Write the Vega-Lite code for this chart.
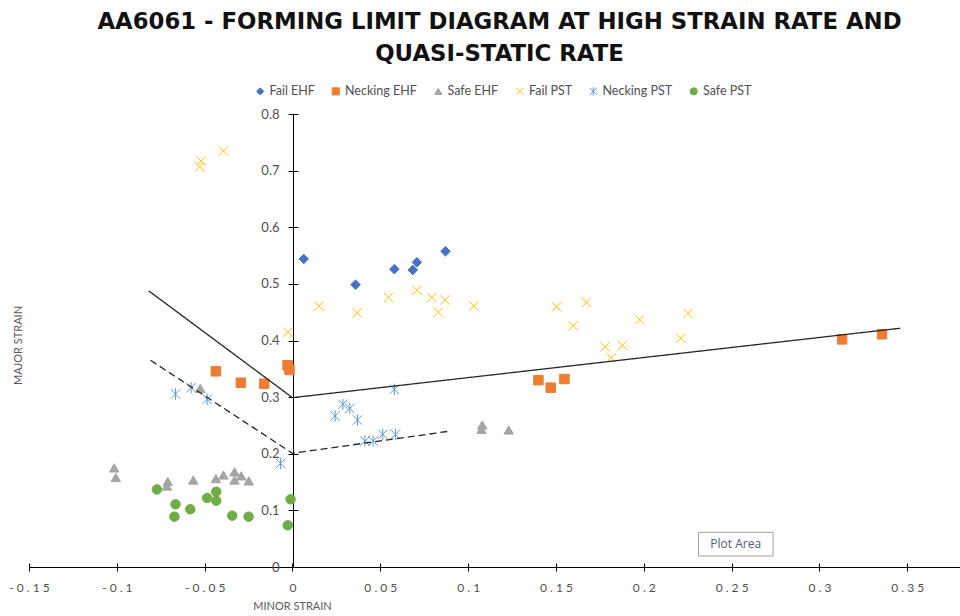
{
  "$schema": "https://vega.github.io/schema/vega-lite/v6.json",
  "width": 931,
  "height": 453,
  "autosize": {"type": "none"},
  "padding": {"left": 29, "top": 114, "right": 0, "bottom": 49},
  "background": "white",
  "title": {
    "text": ["AA6061 - FORMING LIMIT DIAGRAM AT HIGH STRAIN RATE AND", "QUASI-STATIC RATE"],
    "font": "DejaVu Sans",
    "fontSize": 22.8,
    "fontWeight": "bold",
    "color": "#111111",
    "anchor": "middle",
    "frame": "group",
    "lineHeight": 32,
    "offset": 19,
    "dx": 5
  },
  "config": {
    "view": {"stroke": null},
    "axis": {"grid": false, "domainColor": "#000000", "tickColor": "#000000", "labelFont": "Lato", "titleFont": "Lato", "labelColor": "#595959", "titleColor": "#595959"}
  },
  "datasets": {
    "pts": [
      {"s": "Fail EHF", "x": 0.0064, "y": 0.544},
      {"s": "Fail EHF", "x": 0.0359, "y": 0.4986},
      {"s": "Fail EHF", "x": 0.058, "y": 0.526},
      {"s": "Fail EHF", "x": 0.0685, "y": 0.5245},
      {"s": "Fail EHF", "x": 0.0708, "y": 0.538},
      {"s": "Fail EHF", "x": 0.0871, "y": 0.5575},
      {"s": "Necking EHF", "x": -0.0436, "y": 0.3456},
      {"s": "Necking EHF", "x": -0.0294, "y": 0.3255},
      {"s": "Necking EHF", "x": -0.0161, "y": 0.3237},
      {"s": "Necking EHF", "x": -0.0028, "y": 0.3562},
      {"s": "Necking EHF", "x": -0.0017, "y": 0.348},
      {"s": "Necking EHF", "x": 0.14, "y": 0.33},
      {"s": "Necking EHF", "x": 0.147, "y": 0.3167},
      {"s": "Necking EHF", "x": 0.1548, "y": 0.332},
      {"s": "Necking EHF", "x": 0.3129, "y": 0.402},
      {"s": "Necking EHF", "x": 0.3356, "y": 0.411},
      {"s": "Safe EHF", "x": -0.1015, "y": 0.175},
      {"s": "Safe EHF", "x": -0.1006, "y": 0.158},
      {"s": "Safe EHF", "x": -0.071, "y": 0.151},
      {"s": "Safe EHF", "x": -0.0715, "y": 0.143},
      {"s": "Safe EHF", "x": -0.0565, "y": 0.1536},
      {"s": "Safe EHF", "x": -0.0436, "y": 0.156},
      {"s": "Safe EHF", "x": -0.0393, "y": 0.1625},
      {"s": "Safe EHF", "x": -0.033, "y": 0.168},
      {"s": "Safe EHF", "x": -0.033, "y": 0.1536},
      {"s": "Safe EHF", "x": -0.0292, "y": 0.161},
      {"s": "Safe EHF", "x": -0.0249, "y": 0.152},
      {"s": "Safe EHF", "x": -0.0525, "y": 0.3155},
      {"s": "Safe EHF", "x": 0.108, "y": 0.2508},
      {"s": "Safe EHF", "x": 0.1076, "y": 0.243},
      {"s": "Safe EHF", "x": 0.1231, "y": 0.242},
      {"s": "Fail PST", "x": -0.052, "y": 0.717},
      {"s": "Fail PST", "x": -0.0529, "y": 0.707},
      {"s": "Fail PST", "x": -0.0393, "y": 0.7347},
      {"s": "Fail PST", "x": -0.0027, "y": 0.4145},
      {"s": "Fail PST", "x": 0.015, "y": 0.461},
      {"s": "Fail PST", "x": 0.0368, "y": 0.449},
      {"s": "Fail PST", "x": 0.0546, "y": 0.476},
      {"s": "Fail PST", "x": 0.0708, "y": 0.489},
      {"s": "Fail PST", "x": 0.0793, "y": 0.476},
      {"s": "Fail PST", "x": 0.0869, "y": 0.4715},
      {"s": "Fail PST", "x": 0.0829, "y": 0.4498},
      {"s": "Fail PST", "x": 0.1032, "y": 0.461},
      {"s": "Fail PST", "x": 0.1504, "y": 0.4597},
      {"s": "Fail PST", "x": 0.1673, "y": 0.4674},
      {"s": "Fail PST", "x": 0.1597, "y": 0.426},
      {"s": "Fail PST", "x": 0.178, "y": 0.389},
      {"s": "Fail PST", "x": 0.1814, "y": 0.3697},
      {"s": "Fail PST", "x": 0.1878, "y": 0.3915},
      {"s": "Fail PST", "x": 0.1977, "y": 0.4368},
      {"s": "Fail PST", "x": 0.221, "y": 0.4044},
      {"s": "Fail PST", "x": 0.2252, "y": 0.448},
      {"s": "Necking PST", "x": -0.0666, "y": 0.3055},
      {"s": "Necking PST", "x": -0.0577, "y": 0.3167},
      {"s": "Necking PST", "x": -0.0486, "y": 0.296},
      {"s": "Necking PST", "x": -0.0068, "y": 0.183},
      {"s": "Necking PST", "x": 0.0243, "y": 0.2667},
      {"s": "Necking PST", "x": 0.0287, "y": 0.2873},
      {"s": "Necking PST", "x": 0.0326, "y": 0.28},
      {"s": "Necking PST", "x": 0.037, "y": 0.2596},
      {"s": "Necking PST", "x": 0.058, "y": 0.3138},
      {"s": "Necking PST", "x": 0.0412, "y": 0.2225},
      {"s": "Necking PST", "x": 0.0459, "y": 0.2225},
      {"s": "Necking PST", "x": 0.0514, "y": 0.2343},
      {"s": "Necking PST", "x": 0.0586, "y": 0.2343},
      {"s": "Safe PST", "x": -0.0772, "y": 0.137},
      {"s": "Safe PST", "x": -0.0666, "y": 0.1107},
      {"s": "Safe PST", "x": -0.0672, "y": 0.0889},
      {"s": "Safe PST", "x": -0.0582, "y": 0.1019},
      {"s": "Safe PST", "x": -0.0486, "y": 0.1219},
      {"s": "Safe PST", "x": -0.0434, "y": 0.133},
      {"s": "Safe PST", "x": -0.0434, "y": 0.117},
      {"s": "Safe PST", "x": -0.0343, "y": 0.0906},
      {"s": "Safe PST", "x": -0.025, "y": 0.0889},
      {"s": "Safe PST", "x": -0.0011, "y": 0.1195},
      {"s": "Safe PST", "x": -0.0027, "y": 0.0736}
    ],
    "lines": [
      {"l": "solid", "o": 1, "x": -0.0818, "y": 0.4876},
      {"l": "solid", "o": 2, "x": 0, "y": 0.299},
      {"l": "solid", "o": 3, "x": 0.346, "y": 0.4217},
      {"l": "dashed", "o": 1, "x": -0.0808, "y": 0.365},
      {"l": "dashed", "o": 2, "x": 0, "y": 0.2008},
      {"l": "dashed", "o": 3, "x": 0.0897, "y": 0.24}
    ],
    "tip": [
      {"label": "Plot Area", "x": 0.2311, "x2": 0.2736, "y": 0.0194, "y2": 0.0613, "tx": 0.2523, "ty": 0.0406}
    ]
  },
  "layer": [
    {
      "data": {"name": "pts"},
      "mark": {"type": "point", "filled": true, "opacity": 1, "strokeWidth": 1},
      "encoding": {
        "x": {
          "field": "x", "type": "quantitative",
          "scale": {"domain": [-0.15, 0.38], "nice": false, "zero": false},
          "axis": {
            "orient": "bottom",
            "values": [-0.15, -0.1, -0.05, 0, 0.05, 0.1, 0.15, 0.2, 0.25, 0.3, 0.35],
            "format": ".2~f",
            "labelExpr": "join(split(replace(datum.label, '\u2212', '-'), ''), ' ')",
            "labelFont": "Lato", "labelFontSize": 12, "labelColor": "#505050",
            "labelBaseline": "middle", "labelPadding": 16,
            "labelOverlap": false, "labelBound": false, "labelFlush": false,
            "tickSize": 4, "tickColor": "#000000", "domainColor": "#000000", "domainWidth": 1,
            "grid": false,
            "title": "MINOR STRAIN", "titleFont": "Lato", "titleFontSize": 11, "titleFontWeight": "normal", "titleColor": "#595959",
            "titleX": 263, "titleY": 39, "titleAlign": "center", "titleBaseline": "middle"
          }
        },
        "y": {
          "field": "y", "type": "quantitative",
          "scale": {"domain": [0, 0.8], "nice": false, "zero": false},
          "axis": {
            "orient": "left", "offset": -264,
            "values": [0, 0.1, 0.2, 0.3, 0.4, 0.5, 0.6, 0.7, 0.8],
            "format": ".1~f",
            "labelFont": "Lato", "labelFontSize": 13, "labelColor": "#505050", "labelPadding": 9,
            "labelOverlap": false, "labelBound": false, "labelFlush": false,
            "tickSize": 5, "tickColor": "#000000", "domainColor": "#000000", "domainWidth": 1,
            "grid": false,
            "title": "MAJOR STRAIN", "titleFont": "Lato", "titleFontSize": 11, "titleFontWeight": "normal", "titleColor": "#595959",
            "titleX": -275, "titleY": 231, "titleAngle": -90, "titleAlign": "center", "titleBaseline": "middle"
          }
        },
        "fill": {
          "field": "s", "type": "nominal",
          "scale": {"domain": ["Fail EHF", "Necking EHF", "Safe EHF", "Fail PST", "Necking PST", "Safe PST"], "range": ["#4472C4", "#ED7D31", "#A5A5A5", "#FFC000", "#5B9BD5", "#70AD47"]},
          "legend": {"orient": "none", "legendX": 225, "legendY": -29, "direction": "horizontal", "title": null, "labelFont": "Lato", "labelFontSize": 12.5, "labelColor": "#505050", "symbolSize": 50, "symbolStrokeWidth": 1, "columnPadding": 14.5, "labelOffset": 3}
        },
        "stroke": {
          "field": "s", "type": "nominal",
          "scale": {"domain": ["Fail EHF", "Necking EHF", "Safe EHF", "Fail PST", "Necking PST", "Safe PST"], "range": ["#4472C4", "#ED7D31", "#A5A5A5", "#FFC000", "#5B9BD5", "#70AD47"]},
          "legend": {"orient": "none", "legendX": 225, "legendY": -29, "direction": "horizontal", "title": null, "labelFont": "Lato", "labelFontSize": 12.5, "labelColor": "#505050", "symbolSize": 50, "symbolStrokeWidth": 1, "columnPadding": 14.5, "labelOffset": 3}
        },
        "shape": {
          "field": "s", "type": "nominal",
          "scale": {"domain": ["Fail EHF", "Necking EHF", "Safe EHF", "Fail PST", "Necking PST", "Safe PST"], "range": ["diamond", "square", "triangle-up", "M-1,-1L1,1M-1,1L1,-1", "M-1,-1L1,1M-1,1L1,-1M0,-1.2L0,1.2", "circle"]},
          "legend": {"orient": "none", "legendX": 225, "legendY": -29, "direction": "horizontal", "title": null, "labelFont": "Lato", "labelFontSize": 12.5, "labelColor": "#505050", "symbolSize": 50, "symbolStrokeWidth": 1, "columnPadding": 14.5, "labelOffset": 3}
        },
        "size": {"value": 90}
      }
    },
    {
      "data": {"name": "lines"},
      "mark": {"type": "line", "strokeWidth": 1.3, "color": "#262626"},
      "encoding": {
        "x": {
          "field": "x", "type": "quantitative",
          "scale": {"domain": [-0.15, 0.38], "nice": false, "zero": false},
          "axis": {
            "orient": "top", "offset": -453,
            "values": [-0.15, -0.1, -0.05, 0, 0.05, 0.1, 0.15, 0.2, 0.25, 0.3, 0.35],
            "labels": false, "domain": false, "grid": false, "title": null,
            "tickSize": 4, "tickColor": "#000000"
          }
        },
        "y": {
          "field": "y", "type": "quantitative",
          "scale": {"domain": [0, 0.8], "nice": false, "zero": false},
          "axis": {
            "orient": "right", "offset": -667,
            "values": [0, 0.1, 0.2, 0.3, 0.4, 0.5, 0.6, 0.7, 0.8],
            "labels": false, "domain": false, "grid": false, "title": null,
            "tickSize": 5, "tickColor": "#000000"
          }
        },
        "detail": {"field": "l", "type": "nominal"},
        "strokeDash": {"field": "l", "type": "nominal", "scale": {"domain": ["solid", "dashed"], "range": [[1, 0], [7, 4]]}, "legend": null},
        "order": {"field": "o", "type": "quantitative"}
      }
    },
    {
      "data": {"name": "tip"},
      "mark": {"type": "rect", "fill": "#ffffff", "stroke": "#a0a0a0", "strokeWidth": 1},
      "encoding": {
        "x": {"field": "x", "type": "quantitative", "scale": {"domain": [-0.15, 0.38], "nice": false, "zero": false}, "axis": null},
        "x2": {"field": "x2"},
        "y": {"field": "y", "type": "quantitative", "scale": {"domain": [0, 0.8], "nice": false, "zero": false}, "axis": null},
        "y2": {"field": "y2"}
      }
    },
    {
      "data": {"name": "tip"},
      "mark": {"type": "text", "font": "Open Sans", "fontSize": 12, "color": "#4d5b75", "align": "center", "baseline": "middle"},
      "encoding": {
        "x": {"field": "tx", "type": "quantitative", "scale": {"domain": [-0.15, 0.38], "nice": false, "zero": false}, "axis": null},
        "y": {"field": "ty", "type": "quantitative", "scale": {"domain": [0, 0.8], "nice": false, "zero": false}, "axis": null},
        "text": {"field": "label"}
      }
    }
  ],
  "resolve": {"scale": {"x": "independent", "y": "independent"}}
}
